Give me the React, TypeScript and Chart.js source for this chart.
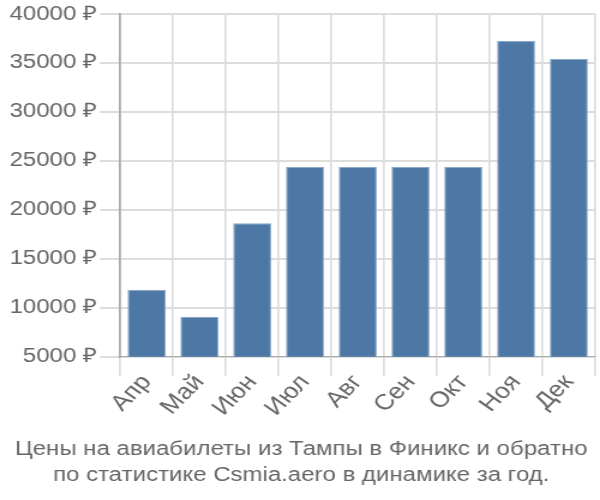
import React, { useEffect, useRef } from "react";
import { Chart, registerables } from "chart.js";

Chart.register(...registerables);

const categories = ["Апр", "Май", "Июн", "Июл", "Авг", "Сен", "Окт", "Ноя", "Дек"];
const prices = [11850, 9080, 18630, 24370, 24370, 24370, 24370, 37260, 35410];
const titleLines = [
  "Цены на авиабилеты из Тампы в Финикс и обратно",
  "по статистике Csmia.aero в динамике за год.",
];

const FONT = "Liberation Sans, Arial, sans-serif";

export default function App() {
  const ref = useRef<HTMLCanvasElement | null>(null);
  useEffect(() => {
    document.body.style.margin = "0";
    const ctx = ref.current!;
    const chart = new Chart(ctx, {
      type: "bar",
      data: {
        labels: categories,
        datasets: [
          {
            data: prices,
            backgroundColor: "#4d78a6",
            borderColor: "#8aa8c8",
            borderWidth: 1,
            categoryPercentage: 0.8,
            barPercentage: 0.9,
          },
        ],
      },
      options: {
        animation: false,
        responsive: false,
        maintainAspectRatio: false,
        devicePixelRatio: 1,
        layout: { padding: { left: 6, right: 4, top: 4, bottom: 12 } },
        plugins: {
          legend: { display: false },
          tooltip: { enabled: false },
          title: {
            display: true,
            position: "bottom",
            text: titleLines,
            color: "#666",
            font: { family: FONT, size: 20, weight: "normal", lineHeight: 1.3 },
            padding: { top: 21, bottom: 0 },
          },
        },
        scales: {
          x: {
            grid: { color: "#dddddd", lineWidth: 1.7, tickLength: 19, offset: true },
            border: { color: "#aaaaaa" },
            ticks: {
              color: "#666",
              font: { family: FONT, size: 22 },
              maxRotation: 50,
              minRotation: 50,
              padding: -6,
            },
          },
          y: {
            min: 5000,
            max: 40000,
            grid: { color: "#dddddd", lineWidth: 2, tickLength: 17 },
            border: { color: "#aaaaaa", width: 1.7 },
            ticks: {
              stepSize: 5000,
              color: "#666",
              font: { family: FONT, size: 20 },
              padding: 2,
              callback: (v: any) => v + " ₽",
            },
          },
        },
      },
    });
    return () => chart.destroy();
  }, []);
  return (
    <div style={{ width: 600, height: 500 }}>
      <canvas
        ref={ref}
        width={500}
        height={500}
        style={{ width: 600, height: 500, display: "block" }}
      />
    </div>
  );
}
